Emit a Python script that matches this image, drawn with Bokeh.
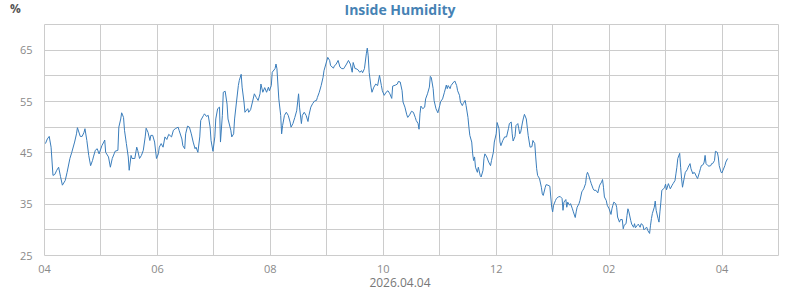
from bokeh.plotting import figure
from bokeh.layouts import column
from bokeh.models import Range1d, FixedTicker, Div
from bokeh.embed import file_html
from bokeh.resources import INLINE

# ---- data: minutes after 04:00 on 2026.04.04, inside humidity (%) ----
minutes = [
    1, 3, 5, 7, 9, 11, 13, 15, 17, 19, 22, 24, 27, 29, 32, 34, 35, 38, 40, 42,
    43, 45, 47, 49, 51, 52, 54, 56, 58, 61, 63, 64, 65, 68, 70, 72, 74, 75, 78, 79,
    81, 82, 84, 85, 87, 89, 90, 92, 93, 96, 98, 99, 101, 103, 105, 107, 108, 110, 112, 113,
    115, 117, 119, 121, 122,
    124, 126, 128, 130, 132, 135, 137, 139, 142, 143, 146, 147, 149, 150, 152, 154, 156, 158, 160, 161,
    163, 165, 166, 169, 170, 172, 174, 176, 177, 179, 181, 182, 184, 186, 187, 189, 190, 192, 194, 195,
    198, 199, 201, 202, 204, 206, 207, 209, 210, 212, 213, 216, 217, 219, 221, 223, 225, 227, 229, 230,
    232, 234, 236, 238, 239, 241, 242, 245,
    246, 247, 249, 251, 252, 253, 255, 257, 259, 261, 262, 264, 266, 268, 270, 271, 273, 274, 276, 278,
    280, 281, 283, 285, 287, 289, 290, 292, 294, 296, 297, 299, 301, 303, 304, 307, 308, 310, 312, 314,
    316, 318, 319, 321, 323, 325, 327, 328, 330, 331, 333, 335, 337, 338, 340, 342, 343, 344, 345, 347,
    348, 350, 352, 354, 356, 358, 359, 361, 363, 365, 367,
    369, 370, 373, 375, 376, 378, 380, 381, 383, 385, 386, 388, 390, 392, 394, 395, 397, 398, 399, 400,
    402, 404, 405, 407, 409, 410, 411, 413, 414, 416, 418, 420, 421, 423, 425, 427, 428, 429, 431, 432,
    434, 436, 438, 439, 441, 442, 444, 445, 447, 448, 450, 451, 452, 454, 455, 456, 457, 458, 460, 461,
    463, 464, 466, 467, 468, 470, 472, 474, 475, 477, 478, 480, 481, 483, 484, 485, 487, 489,
    491, 493, 494, 496, 497, 498, 500, 501, 503, 504, 505, 506, 508, 509, 510, 512, 513, 514, 516, 518,
    519, 521, 522, 523, 524, 526, 528, 529, 530, 532, 533, 535, 537, 538, 539, 540, 541, 543, 544, 546,
    548, 550, 551, 552, 554, 555, 556, 558, 559, 561, 562, 564, 565, 566, 568, 569, 571, 572, 573, 575,
    576, 577, 578, 580, 581, 583, 584, 586, 588, 589, 590, 592, 593, 594, 595, 597, 598, 600, 602, 603,
    604, 605, 607, 608, 609, 611,
    612, 614, 615, 616, 618, 619, 620, 621, 623, 624, 626, 627, 628, 630, 631, 633, 634, 636, 637, 638,
    640, 641, 643, 644, 645, 646, 648, 649, 650, 652, 653, 654, 655, 656, 658, 659, 660, 661, 663, 664,
    665, 667, 668, 670, 671, 672, 673, 675, 676, 677, 678, 680, 681, 683, 684, 686, 687, 689, 690, 691,
    693, 694, 696, 697, 698, 700, 701, 702, 703, 705, 706, 708, 709, 710, 712, 713, 715, 716, 717, 719,
    720, 721, 723, 724, 726,
]
humidity = [
    46.8, 47.7, 48.2, 46.1, 40.6, 40.8, 41.6, 42.2, 40.4, 38.7, 39.6, 41.2, 43.9, 45.1, 47.1, 48.7, 49.9, 48.2, 48.2, 49.0,
    49.7, 47.4, 44.5, 42.5, 43.5, 44.2, 45.5, 45.8, 44.8, 46.4, 47.1, 47.5, 45.1, 44.2, 42.2, 43.9, 44.8, 45.3, 45.5, 50.0,
    51.6, 52.8, 51.9, 49.4, 46.8, 44.2, 41.6, 44.5, 43.9, 43.9, 46.1, 45.5, 43.9, 44.5, 45.5, 48.1, 49.8, 49.0, 47.4, 48.4,
    48.4, 47.1, 43.9, 44.8, 46.1,
    46.8, 46.1, 48.1, 47.6, 48.6, 48.1, 49.4, 49.7, 50.0, 49.4, 47.7, 46.4, 45.8, 48.7, 50.2, 50.0, 48.7, 47.1, 45.8, 46.1,
    45.1, 48.1, 51.3, 52.3, 52.6, 52.1, 52.3, 50.0, 47.4, 45.3, 48.1, 51.6, 53.6, 53.9, 47.1, 52.3, 56.8, 57.0, 54.5, 51.6,
    49.4, 48.1, 48.7, 51.6, 54.9, 58.1, 59.1, 60.3, 57.8, 54.9, 52.9, 53.6, 52.9, 53.4, 54.9, 56.5, 55.8, 55.2, 56.5, 58.4,
    56.8, 57.7, 56.8, 57.8, 57.1, 58.1, 60.7, 61.4,
    62.3, 61.4, 55.5, 52.3, 48.7, 50.3, 52.3, 52.9, 52.3, 51.0, 50.0, 50.7, 51.9, 53.2, 56.5, 53.9, 50.7, 52.3, 52.9, 52.3,
    51.1, 52.3, 53.9, 54.6, 55.1, 55.2, 55.8, 56.8, 58.1, 59.7, 61.0, 62.3, 63.6, 63.0, 62.0, 61.5, 61.9, 62.3, 63.0, 61.7,
    61.4, 61.4, 61.7, 62.3, 63.0, 62.3, 60.7, 62.6, 61.4, 61.4, 61.2, 60.7, 61.0, 60.6, 61.4, 64.3, 65.4, 63.9, 60.7, 57.8,
    56.8, 57.8, 58.4, 58.1, 60.1, 58.1, 57.1, 56.2, 56.8, 57.1, 56.5,
    55.6, 58.0, 58.2, 58.4, 58.9, 58.8, 57.1, 54.9, 53.9, 52.4, 51.9, 52.4, 53.1, 52.9, 51.9, 51.3, 50.7, 49.6, 52.6, 54.1,
    53.6, 53.9, 55.5, 56.5, 57.8, 59.9, 59.7, 57.5, 55.2, 53.6, 52.8, 54.2, 55.0, 55.5, 56.8, 58.2, 57.5, 58.1, 57.5, 58.1,
    58.6, 59.0, 58.1, 57.1, 56.2, 54.9, 54.2, 54.6, 55.2, 54.2, 51.9, 50.0, 48.4, 47.1, 44.8, 43.5, 44.2, 42.2, 41.2, 42.2,
    40.6, 40.3, 41.6, 43.9, 44.8, 44.2, 43.2, 42.5, 43.5, 45.1, 47.1, 48.7, 50.9, 49.7, 47.1, 46.4, 47.4, 48.1,
    48.1, 49.7, 50.7, 51.0, 48.7, 47.3, 48.2, 50.3, 50.7, 49.7, 48.7, 49.0, 51.0, 51.8, 52.5, 51.6, 50.0, 48.4, 46.1, 46.2,
    47.4, 46.8, 44.2, 41.9, 40.6, 40.0, 38.3, 37.0, 36.7, 38.2, 38.8, 38.7, 38.5, 36.4, 34.4, 33.5, 34.8, 35.7, 36.1, 36.4,
    36.5, 36.1, 33.8, 35.4, 35.9, 34.4, 35.4, 34.8, 35.1, 34.1, 33.5, 32.4, 33.5, 34.4, 35.1, 35.7, 37.4, 37.7, 38.0, 39.0,
    40.6, 41.2, 40.8, 39.6, 39.0, 38.0, 37.7, 37.7, 37.2, 38.0, 38.7, 39.3, 39.8, 38.3, 36.4, 35.7, 34.8, 34.1, 33.0, 34.1,
    34.8, 35.4, 35.1, 34.4, 32.5, 31.5,
    32.0, 32.0, 30.2, 30.9, 31.2, 32.8, 34.1, 33.5, 31.8, 31.1, 30.5, 31.2, 30.4, 30.9, 31.1, 30.5, 31.2, 30.9, 30.0, 30.2,
    30.5, 29.9, 29.3, 30.9, 32.2, 33.2, 34.4, 35.6, 33.8, 32.2, 31.5, 33.5, 35.4, 37.7, 38.0, 38.3, 38.9, 37.8, 39.0, 38.5,
    38.0, 38.7, 39.0, 39.6, 40.9, 42.2, 43.9, 44.9, 42.2, 40.0, 38.3, 40.3, 41.2, 41.7, 42.2, 42.9, 41.9, 40.9, 41.2, 41.1,
    40.3, 40.0, 41.2, 41.9, 42.5, 42.7, 43.2, 44.5, 42.9, 42.5, 42.4, 42.5, 42.9, 42.9, 43.5, 45.3, 45.1, 44.2, 42.5, 41.2,
    41.1, 41.6, 42.5, 43.2, 43.9,
]

x_tick_minutes = [0, 120, 240, 360, 480, 600, 720]
x_tick_labels = ["04", "06", "08", "10", "12", "02", "04"]
y_tick_values = [25, 35, 45, 55, 65]
title_text = "Inside Humidity"
unit_text = "%"
date_text = "2026.04.04"

# ---- header strip (unit and title) ----
header = Div(width=800, height=24, margin=0, text=(
    '<div style="position:relative;width:800px;height:24px;font-family:\'Open Sans\';">'
    '<span style="position:absolute;left:10px;top:1px;font-size:12px;font-weight:bold;'
    'color:#555555;line-height:16px;">' + unit_text + '</span>'
    '<span style="position:absolute;left:0;top:1px;width:800px;text-align:center;font-size:14px;'
    'font-weight:bold;color:#4682b4;line-height:18px;">' + title_text + '</span></div>'))

# ---- main chart ----
p = figure(width=800, height=251, output_backend="svg", toolbar_location=None,
           x_range=Range1d(0, 780), y_range=Range1d(25, 70),
           min_border_left=44, min_border_right=22, min_border_top=0, min_border_bottom=20)
p.title.text = ""
p.background_fill_color = "white"
p.border_fill_color = "white"
p.outline_line_color = "#cccccc"
p.outline_line_width = 1

grid_color = "#cccccc"
p.xgrid.ticker = FixedTicker(ticks=list(range(0, 781, 60)))
p.ygrid.ticker = FixedTicker(ticks=list(range(25, 71, 5)))
for g in (p.xgrid, p.ygrid):
    g.grid_line_color = grid_color
    g.grid_line_width = 1
    g.grid_line_alpha = 1.0

p.xaxis.ticker = FixedTicker(ticks=x_tick_minutes)
p.xaxis.major_label_overrides = {m: lab for m, lab in zip(x_tick_minutes, x_tick_labels)}
p.yaxis.ticker = FixedTicker(ticks=y_tick_values)
for ax in (p.xaxis, p.yaxis):
    ax.axis_line_color = None
    ax.major_tick_line_color = None
    ax.minor_tick_line_color = None
    ax.major_label_text_font = "Open Sans"
    ax.major_label_text_font_size = "11px"
    ax.major_label_text_color = "#8a8a8a"
p.xaxis.major_label_standoff = 3
p.yaxis.major_label_standoff = 6

p.line(minutes, humidity, line_color="#3a7dbb", line_width=1)

# ---- footer (date) ----
footer = Div(width=800, height=15, margin=0, text=(
    '<div style="position:relative;width:800px;height:15px;font-family:\'Open Sans\';">'
    '<span style="position:absolute;left:0;top:0px;width:800px;text-align:center;font-size:12px;'
    'color:#777777;line-height:16px;">' + date_text + '</span></div>'))

layout = column(header, p, footer, spacing=0)
open("out.html", "w").write(file_html(layout, INLINE))
